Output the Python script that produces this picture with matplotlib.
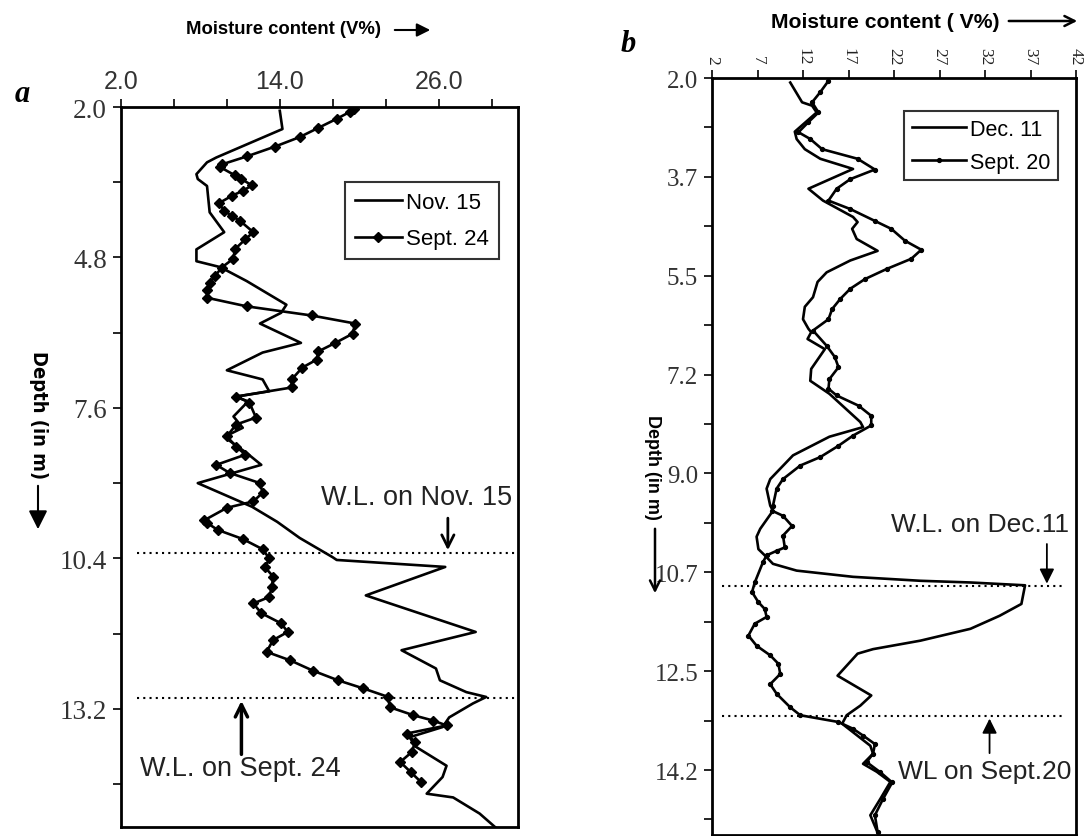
import matplotlib.pyplot as plt

# panel a: moisture content (V%) against depth (m)
nov15_x = [14.0, 14.2, 9.2, 8.5, 7.7, 7.8, 8.5, 8.7, 9.8, 7.7, 7.7, 9.5, 11.5, 14.5, 14.1,
           12.5, 15.6, 12.7, 10.0, 12.7, 13.2, 10.7, 11.6, 10.5, 11.2, 9.8, 11.5, 12.6,
           7.8, 11.9, 13.8, 15.5, 18.0, 18.3, 26.5, 20.5, 28.8, 23.2, 25.8, 26.1, 28.1,
           29.6, 28.6, 26.8, 26.3, 23.8, 24.3, 26.6, 26.3, 25.1, 27.1, 29.1, 30.4]
nov15_d = [2.07, 2.41, 2.94, 3.03, 3.25, 3.34, 3.47, 3.96, 4.33, 4.65, 4.87, 4.98, 5.24, 5.68,
           5.83, 6.03, 6.39, 6.57, 6.90, 7.07, 7.29, 7.39, 7.48, 7.76, 7.97, 8.14, 8.44, 8.66,
           9.00, 9.44, 9.72, 10.02, 10.38, 10.43, 10.56, 11.09, 11.77, 12.11, 12.45, 12.67,
           12.89, 12.98, 13.10, 13.36, 13.54, 13.73, 13.91, 14.26, 14.47, 14.78, 14.85, 15.15,
           15.43]

sep24_x = [19.6, 19.3, 18.3, 16.9, 15.5, 13.6, 11.5, 9.6, 9.5, 10.6, 11.1, 11.9, 11.2, 10.4,
           9.4, 9.8, 10.4, 11.0, 12.0, 11.4, 10.6, 10.5, 9.6, 9.1, 8.7, 8.5, 8.5, 11.5, 16.4,
           19.7, 19.5, 18.2, 16.9, 16.8, 15.7, 14.9, 14.9, 10.7, 11.7, 12.2, 10.7, 10.0, 10.7,
           11.4, 9.2, 10.2, 12.5, 12.7, 12.0, 10.0, 8.3, 8.5, 9.3, 11.2, 12.7, 13.2, 12.9,
           13.5, 13.4, 13.2, 12.0, 12.6, 14.1, 14.6, 13.5, 13.0, 14.8, 16.5, 18.4, 20.3, 22.2,
           22.3, 24.1, 25.6, 26.6, 23.6, 24.2, 24.0, 23.1, 23.9, 24.7]
sep24_d = [2.04, 2.09, 2.22, 2.39, 2.56, 2.74, 2.92, 3.07, 3.12, 3.27, 3.34, 3.46, 3.56, 3.65,
           3.79, 3.93, 4.03, 4.12, 4.33, 4.46, 4.65, 4.82, 4.99, 5.15, 5.27, 5.40, 5.55, 5.71,
           5.88, 6.03, 6.22, 6.39, 6.55, 6.70, 6.85, 7.07, 7.22, 7.39, 7.50, 7.78, 7.91, 8.13,
           8.32, 8.47, 8.66, 8.81, 9.00, 9.18, 9.34, 9.46, 9.69, 9.74, 9.87, 10.04, 10.23,
           10.40, 10.57, 10.74, 10.93, 11.12, 11.24, 11.42, 11.61, 11.77, 11.92, 12.14, 12.30,
           12.49, 12.67, 12.82, 12.98, 13.17, 13.32, 13.42, 13.51, 13.66, 13.82, 14.00, 14.19,
           14.38, 14.57]

# panel b
dec11_x = [10.6, 11.9, 13.0, 13.5, 11.1, 11.3, 12.2, 13.9, 17.5, 12.6, 14.2, 17.5, 18.0, 17.4,
           17.9, 20.2, 17.2, 14.6, 13.6, 13.1, 12.2, 12.0, 12.6, 12.9, 12.5, 14.4, 12.9, 12.8,
           14.9, 18.3, 18.6, 14.9, 10.9, 8.4, 8.0, 8.4, 8.7, 7.3, 6.9, 7.1, 7.8, 8.7, 11.3,
           17.5, 24.9, 30.4, 36.4, 36.0, 33.6, 30.4, 24.9, 19.7, 18.0, 15.8, 19.5, 18.3, 16.8,
           16.3, 19.4, 19.7, 18.6, 20.1, 21.6, 20.5, 19.4, 20.1]
dec11_d = [2.08, 2.43, 2.49, 2.61, 2.95, 3.08, 3.26, 3.43, 3.61, 3.96, 4.17, 4.46, 4.55, 4.67,
           4.85, 5.06, 5.23, 5.44, 5.61, 5.88, 6.05, 6.27, 6.44, 6.50, 6.62, 6.80, 7.15, 7.36,
           7.59, 8.09, 8.18, 8.35, 8.68, 9.10, 9.27, 9.57, 9.66, 9.98, 10.12, 10.34, 10.45,
           10.60, 10.72, 10.83, 10.90, 10.93, 10.98, 11.31, 11.52, 11.75, 11.96, 12.11, 12.19,
           12.58, 12.93, 13.11, 13.28, 13.43, 13.82, 13.96, 14.14, 14.28, 14.46, 14.76, 15.05,
           15.32]

sep20_x = [14.8, 13.9, 13.0, 13.7, 12.6, 11.5, 12.8, 14.1, 18.0, 19.9, 17.2, 15.7, 14.8, 17.2,
           19.9, 21.7, 23.2, 25.0, 23.9, 21.2, 18.8, 17.2, 16.1, 15.2, 14.8, 13.1, 14.6, 15.5,
           15.9, 14.9, 14.8, 15.7, 18.1, 19.5, 19.5, 17.5, 15.9, 13.9, 11.7, 9.8, 9.1, 8.7,
           8.6, 9.8, 10.8, 9.8, 10.0, 9.1, 8.0, 7.6, 6.7, 6.4, 7.1, 7.8, 8.0, 6.7, 6.0, 6.9,
           8.4, 9.3, 9.5, 8.4, 9.1, 10.6, 11.7, 15.9, 17.5, 18.6, 19.9, 19.7, 19.0, 20.5, 21.8,
           20.8, 19.9, 20.2]
sep20_d = [2.05, 2.25, 2.43, 2.61, 2.78, 2.96, 3.08, 3.26, 3.43, 3.62, 3.79, 3.96, 4.17, 4.32,
           4.53, 4.67, 4.88, 5.04, 5.20, 5.38, 5.56, 5.73, 5.91, 6.09, 6.27, 6.47, 6.74, 6.94,
           7.12, 7.33, 7.50, 7.62, 7.80, 7.98, 8.15, 8.33, 8.51, 8.71, 8.86, 9.10, 9.27, 9.57,
           9.66, 9.75, 9.93, 10.10, 10.31, 10.37, 10.45, 10.57, 10.93, 11.10, 11.28, 11.40,
           11.54, 11.66, 11.87, 12.05, 12.22, 12.37, 12.55, 12.73, 12.90, 13.14, 13.28, 13.40,
           13.52, 13.64, 13.79, 13.96, 14.11, 14.29, 14.47, 14.76, 15.05, 15.35]

a_xticks = [2, 6, 10, 14, 18, 22, 26, 30]
a_xlabels = ["2.0", "", "", "14.0", "", "", "26.0", ""]
a_yticks = [2.0, 3.4, 4.8, 6.2, 7.6, 9.0, 10.4, 11.8, 13.2, 14.6]
a_ylabels = ["2.0", "", "4.8", "", "7.6", "", "10.4", "", "13.2", ""]
b_xticks = [2, 7, 12, 17, 22, 27, 32, 37, 42]
b_yticks = [2.0, 2.875, 3.75, 4.625, 5.5, 6.375, 7.25, 8.125, 9.0, 9.875, 10.75, 11.625,
            12.5, 13.375, 14.25, 15.125]
b_ylabels = ["2.0", "", "3.7", "", "5.5", "", "7.2", "", "9.0", "", "10.7", "", "12.5", "",
             "14.2", ""]

wl_a = {"nov": 10.3, "sep": 13.0}
wl_b = {"dec": 11.0, "sep": 13.29}

W, H = 1085, 837
fig = plt.figure(figsize=(W / 100, H / 100), dpi=100)
Arrow = plt.matplotlib.patches.FancyArrowPatch


def fx(px):
    return px / W


def fy(py):
    return 1 - py / H


sans = "Liberation Sans"
serif = "Liberation Serif"
lw = 1.9

# ---------- panel a ----------
ax1 = fig.add_axes([fx(121), fy(828), fx(518) - fx(121), fy(108) - fy(828)])
ax1.plot(nov15_x, nov15_d, color="black", lw=lw, label="Nov. 15")
ax1.plot(sep24_x, sep24_d, color="black", lw=lw, marker="D", ms=5.5, label="Sept. 24")
ax1.set_xlim(2, 32)
ax1.set_ylim(15.4, 2.0)
ax1.xaxis.tick_top()
ax1.set_xticks(a_xticks)
ax1.set_xticklabels(a_xlabels, fontsize=18, family=sans, color="#333333")
ax1.set_yticks(a_yticks)
ax1.set_yticklabels(a_ylabels, fontsize=19.5, family=serif, color="#333333")
ax1.tick_params(direction="out", length=6, width=1.2, pad=4)
for s in ax1.spines.values():
    s.set_linewidth(2)
for k in wl_a:
    ax1.plot([3.2, 32], [wl_a[k]] * 2, color="black", ls=(0, (1, 2)), lw=1.5)
ax1.annotate("", xy=(26.7, wl_a["nov"]), xytext=(26.7, 9.6),
             arrowprops=dict(arrowstyle="->", lw=2, color="black", mutation_scale=22))
ax1.text(24.3, 9.26, "W.L. on Nov. 15", fontsize=19.5, family=sans, ha="center",
         va="center", color="#222222")
ax1.annotate("", xy=(11.1, wl_a["sep"]), xytext=(11.1, 14.1),
             arrowprops=dict(arrowstyle="->", lw=2.5, color="black", mutation_scale=22))
ax1.text(11.05, 14.31, "W.L. on Sept. 24", fontsize=19.5, family=sans, ha="center",
         va="center", color="#222222")
leg1 = ax1.legend(loc="upper left", bbox_to_anchor=(0.564, 0.896), borderaxespad=0,
                  prop={"family": sans, "size": 16}, frameon=True, fancybox=False,
                  handlelength=2.1, handletextpad=0.2, borderpad=0.45, labelspacing=0.7)
leg1.get_frame().set_edgecolor("black")
leg1.get_frame().set_linewidth(1.5)

fig.text(fx(284), fy(30), "Moisture content (V%)", fontsize=13.3, weight="bold",
         family=sans, ha="center", va="center")
fig.add_artist(Arrow((fx(392), fy(31)), (fx(433), fy(31)), transform=fig.transFigure,
                     arrowstyle="-|>", mutation_scale=20, lw=1.5, color="black"))
fig.text(fx(38), fy(415), "Depth (in m)", fontsize=14.5, weight="bold", family="DejaVu Sans",
         stretch="condensed", rotation=-90, ha="center", va="center")
fig.add_artist(Arrow((fx(38), fy(484)), (fx(38), fy(533)), transform=fig.transFigure,
                     arrowstyle="-|>", mutation_scale=28, lw=1.5, color="black"))
fig.text(fx(22), fy(95), "a", fontsize=22, weight="bold", style="italic", family=serif,
         ha="center", va="center")

# ---------- panel b ----------
ax2 = fig.add_axes([fx(712), fy(836), fx(1076) - fx(712), fy(79) - fy(836)])
ax2.plot(dec11_x, dec11_d, color="black", lw=lw, label="Dec. 11")
ax2.plot(sep20_x, sep20_d, color="black", lw=lw, marker="o", ms=2.8, label="Sept. 20")
ax2.set_xlim(2, 42)
ax2.set_ylim(15.4, 2.0)
ax2.xaxis.tick_top()
ax2.set_xticks(b_xticks)
ax2.set_xticklabels([str(v) for v in b_xticks], fontsize=12.5, family=serif, rotation=-90,
                    color="#222222")
ax2.set_yticks(b_yticks)
ax2.set_yticklabels(b_ylabels, fontsize=18, family=serif, color="#333333")
ax2.tick_params(direction="out", length=6, width=1.2, pad=4)
for s in ax2.spines.values():
    s.set_linewidth(2)
for k in wl_b:
    ax2.plot([3.1, 40.6], [wl_b[k]] * 2, color="black", ls=(0, (1, 2)), lw=1.5)
ax2.annotate("", xy=(38.8, wl_b["dec"]), xytext=(38.8, 10.2),
             arrowprops=dict(arrowstyle="-|>", lw=1.3, color="black", mutation_scale=22))
ax2.text(31.4, 9.89, "W.L. on Dec.11", fontsize=19, family=sans, ha="center", va="center",
         color="#222222")
ax2.annotate("", xy=(32.5, wl_b["sep"]), xytext=(32.5, 14.0),
             arrowprops=dict(arrowstyle="-|>", lw=1.3, color="black", mutation_scale=22))
ax2.text(32.0, 14.27, "WL on Sept.20", fontsize=19, family=sans, ha="center", va="center",
         color="#222222")
leg2 = ax2.legend(loc="upper right", bbox_to_anchor=(0.9505, 0.956), borderaxespad=0,
                  prop={"family": sans, "size": 15.5}, frameon=True, fancybox=False,
                  handlelength=2.5, handletextpad=0.2, borderpad=0.35, labelspacing=0.55)
leg2.get_frame().set_edgecolor("black")
leg2.get_frame().set_linewidth(1.5)

fig.text(fx(885), fy(22), "Moisture content ( V%)", fontsize=15.2, weight="bold",
         family=sans, ha="center", va="center")
fig.add_artist(Arrow((fx(1006), fy(22)), (fx(1080), fy(22)), transform=fig.transFigure,
                     arrowstyle="->", mutation_scale=18, lw=1.8, color="black"))
fig.text(fx(653), fy(467), "Depth (in m)", fontsize=13, weight="bold", family=sans,
         rotation=-90, ha="center", va="center")
fig.add_artist(Arrow((fx(655), fy(527)), (fx(655), fy(597)), transform=fig.transFigure,
                     arrowstyle="->", mutation_scale=18, lw=1.8, color="black"))
fig.text(fx(628), fy(45), "b", fontsize=22, weight="bold", style="italic", family=serif,
         ha="center", va="center")

fig.savefig("out.png", dpi=100)
